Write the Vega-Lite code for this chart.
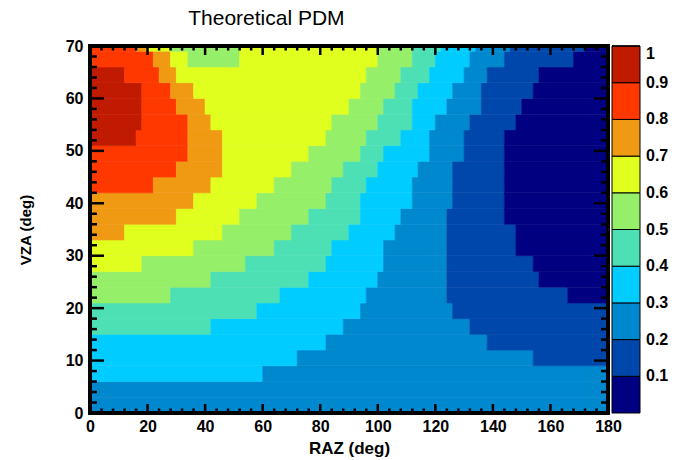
{
  "$schema": "https://vega.github.io/schema/vega-lite/v6.json",
  "width": 518,
  "height": 367,
  "autosize": {"type": "none"},
  "padding": {"left": 90, "top": 46, "right": 78, "bottom": 47},
  "background": "white",
  "title": {"text": "Theoretical PDM", "anchor": "start", "dx": 170, "offset": 9, "font": "Liberation Sans", "fontSize": 21, "fontWeight": "normal", "color": "black"},
  "config": {"view": {"stroke": null}, "font": "Liberation Sans"},
  "datasets": {
    "pdm": [
    {"x0":0,"x1":180,"y0":0,"y1":3,"v":0.25},
    {"x0":0,"x1":180,"y0":3,"y1":6,"v":0.25},
    {"x0":0,"x1":60,"y0":6,"y1":9,"v":0.35},{"x0":60,"x1":180,"y0":6,"y1":9,"v":0.25},
    {"x0":0,"x1":72,"y0":9,"y1":12,"v":0.35},{"x0":72,"x1":154,"y0":9,"y1":12,"v":0.25},{"x0":154,"x1":180,"y0":9,"y1":12,"v":0.15},
    {"x0":0,"x1":82,"y0":12,"y1":15,"v":0.35},{"x0":82,"x1":138,"y0":12,"y1":15,"v":0.25},{"x0":138,"x1":180,"y0":12,"y1":15,"v":0.15},
    {"x0":0,"x1":42,"y0":15,"y1":18,"v":0.45},{"x0":42,"x1":88,"y0":15,"y1":18,"v":0.35},{"x0":88,"x1":132,"y0":15,"y1":18,"v":0.25},{"x0":132,"x1":180,"y0":15,"y1":18,"v":0.15},
    {"x0":0,"x1":58,"y0":18,"y1":21,"v":0.45},{"x0":58,"x1":94,"y0":18,"y1":21,"v":0.35},{"x0":94,"x1":126,"y0":18,"y1":21,"v":0.25},{"x0":126,"x1":180,"y0":18,"y1":21,"v":0.15},
    {"x0":0,"x1":28,"y0":21,"y1":24,"v":0.55},{"x0":28,"x1":66,"y0":21,"y1":24,"v":0.45},{"x0":66,"x1":96,"y0":21,"y1":24,"v":0.35},{"x0":96,"x1":124,"y0":21,"y1":24,"v":0.25},{"x0":124,"x1":166,"y0":21,"y1":24,"v":0.15},{"x0":166,"x1":180,"y0":21,"y1":24,"v":0.05},
    {"x0":0,"x1":42,"y0":24,"y1":27,"v":0.55},{"x0":42,"x1":76,"y0":24,"y1":27,"v":0.45},{"x0":76,"x1":100,"y0":24,"y1":27,"v":0.35},{"x0":100,"x1":124,"y0":24,"y1":27,"v":0.25},{"x0":124,"x1":156,"y0":24,"y1":27,"v":0.15},{"x0":156,"x1":180,"y0":24,"y1":27,"v":0.05},
    {"x0":0,"x1":18,"y0":27,"y1":30,"v":0.65},{"x0":18,"x1":54,"y0":27,"y1":30,"v":0.55},{"x0":54,"x1":82,"y0":27,"y1":30,"v":0.45},{"x0":82,"x1":102,"y0":27,"y1":30,"v":0.35},{"x0":102,"x1":124,"y0":27,"y1":30,"v":0.25},{"x0":124,"x1":154,"y0":27,"y1":30,"v":0.15},{"x0":154,"x1":180,"y0":27,"y1":30,"v":0.05},
    {"x0":0,"x1":36,"y0":30,"y1":33,"v":0.65},{"x0":36,"x1":64,"y0":30,"y1":33,"v":0.55},{"x0":64,"x1":84,"y0":30,"y1":33,"v":0.45},{"x0":84,"x1":102,"y0":30,"y1":33,"v":0.35},{"x0":102,"x1":124,"y0":30,"y1":33,"v":0.25},{"x0":124,"x1":148,"y0":30,"y1":33,"v":0.15},{"x0":148,"x1":180,"y0":30,"y1":33,"v":0.05},
    {"x0":0,"x1":12,"y0":33,"y1":36,"v":0.75},{"x0":12,"x1":46,"y0":33,"y1":36,"v":0.65},{"x0":46,"x1":70,"y0":33,"y1":36,"v":0.55},{"x0":70,"x1":90,"y0":33,"y1":36,"v":0.45},{"x0":90,"x1":106,"y0":33,"y1":36,"v":0.35},{"x0":106,"x1":124,"y0":33,"y1":36,"v":0.25},{"x0":124,"x1":148,"y0":33,"y1":36,"v":0.15},{"x0":148,"x1":180,"y0":33,"y1":36,"v":0.05},
    {"x0":0,"x1":30,"y0":36,"y1":39,"v":0.75},{"x0":30,"x1":52,"y0":36,"y1":39,"v":0.65},{"x0":52,"x1":76,"y0":36,"y1":39,"v":0.55},{"x0":76,"x1":94,"y0":36,"y1":39,"v":0.45},{"x0":94,"x1":108,"y0":36,"y1":39,"v":0.35},{"x0":108,"x1":124,"y0":36,"y1":39,"v":0.25},{"x0":124,"x1":144,"y0":36,"y1":39,"v":0.15},{"x0":144,"x1":180,"y0":36,"y1":39,"v":0.05},
    {"x0":0,"x1":36,"y0":39,"y1":42,"v":0.75},{"x0":36,"x1":58,"y0":39,"y1":42,"v":0.65},{"x0":58,"x1":82,"y0":39,"y1":42,"v":0.55},{"x0":82,"x1":94,"y0":39,"y1":42,"v":0.45},{"x0":94,"x1":112,"y0":39,"y1":42,"v":0.35},{"x0":112,"x1":126,"y0":39,"y1":42,"v":0.25},{"x0":126,"x1":144,"y0":39,"y1":42,"v":0.15},{"x0":144,"x1":180,"y0":39,"y1":42,"v":0.05},
    {"x0":0,"x1":22,"y0":42,"y1":45,"v":0.85},{"x0":22,"x1":42,"y0":42,"y1":45,"v":0.75},{"x0":42,"x1":64,"y0":42,"y1":45,"v":0.65},{"x0":64,"x1":84,"y0":42,"y1":45,"v":0.55},{"x0":84,"x1":96,"y0":42,"y1":45,"v":0.45},{"x0":96,"x1":112,"y0":42,"y1":45,"v":0.35},{"x0":112,"x1":126,"y0":42,"y1":45,"v":0.25},{"x0":126,"x1":144,"y0":42,"y1":45,"v":0.15},{"x0":144,"x1":180,"y0":42,"y1":45,"v":0.05},
    {"x0":0,"x1":30,"y0":45,"y1":48,"v":0.85},{"x0":30,"x1":46,"y0":45,"y1":48,"v":0.75},{"x0":46,"x1":70,"y0":45,"y1":48,"v":0.65},{"x0":70,"x1":88,"y0":45,"y1":48,"v":0.55},{"x0":88,"x1":100,"y0":45,"y1":48,"v":0.45},{"x0":100,"x1":114,"y0":45,"y1":48,"v":0.35},{"x0":114,"x1":126,"y0":45,"y1":48,"v":0.25},{"x0":126,"x1":144,"y0":45,"y1":48,"v":0.15},{"x0":144,"x1":180,"y0":45,"y1":48,"v":0.05},
    {"x0":0,"x1":34,"y0":48,"y1":51,"v":0.85},{"x0":34,"x1":46,"y0":48,"y1":51,"v":0.75},{"x0":46,"x1":76,"y0":48,"y1":51,"v":0.65},{"x0":76,"x1":94,"y0":48,"y1":51,"v":0.55},{"x0":94,"x1":102,"y0":48,"y1":51,"v":0.45},{"x0":102,"x1":118,"y0":48,"y1":51,"v":0.35},{"x0":118,"x1":130,"y0":48,"y1":51,"v":0.25},{"x0":130,"x1":144,"y0":48,"y1":51,"v":0.15},{"x0":144,"x1":180,"y0":48,"y1":51,"v":0.05},
    {"x0":0,"x1":16,"y0":51,"y1":54,"v":0.95},{"x0":16,"x1":34,"y0":51,"y1":54,"v":0.85},{"x0":34,"x1":46,"y0":51,"y1":54,"v":0.75},{"x0":46,"x1":82,"y0":51,"y1":54,"v":0.65},{"x0":82,"x1":96,"y0":51,"y1":54,"v":0.55},{"x0":96,"x1":108,"y0":51,"y1":54,"v":0.45},{"x0":108,"x1":118,"y0":51,"y1":54,"v":0.35},{"x0":118,"x1":130,"y0":51,"y1":54,"v":0.25},{"x0":130,"x1":144,"y0":51,"y1":54,"v":0.15},{"x0":144,"x1":180,"y0":51,"y1":54,"v":0.05},
    {"x0":0,"x1":18,"y0":54,"y1":57,"v":0.95},{"x0":18,"x1":34,"y0":54,"y1":57,"v":0.85},{"x0":34,"x1":42,"y0":54,"y1":57,"v":0.75},{"x0":42,"x1":84,"y0":54,"y1":57,"v":0.65},{"x0":84,"x1":100,"y0":54,"y1":57,"v":0.55},{"x0":100,"x1":112,"y0":54,"y1":57,"v":0.45},{"x0":112,"x1":120,"y0":54,"y1":57,"v":0.35},{"x0":120,"x1":132,"y0":54,"y1":57,"v":0.25},{"x0":132,"x1":148,"y0":54,"y1":57,"v":0.15},{"x0":148,"x1":180,"y0":54,"y1":57,"v":0.05},
    {"x0":0,"x1":18,"y0":57,"y1":60,"v":0.95},{"x0":18,"x1":30,"y0":57,"y1":60,"v":0.85},{"x0":30,"x1":40,"y0":57,"y1":60,"v":0.75},{"x0":40,"x1":90,"y0":57,"y1":60,"v":0.65},{"x0":90,"x1":102,"y0":57,"y1":60,"v":0.55},{"x0":102,"x1":112,"y0":57,"y1":60,"v":0.45},{"x0":112,"x1":124,"y0":57,"y1":60,"v":0.35},{"x0":124,"x1":136,"y0":57,"y1":60,"v":0.25},{"x0":136,"x1":150,"y0":57,"y1":60,"v":0.15},{"x0":150,"x1":180,"y0":57,"y1":60,"v":0.05},
    {"x0":0,"x1":18,"y0":60,"y1":63,"v":0.95},{"x0":18,"x1":28,"y0":60,"y1":63,"v":0.85},{"x0":28,"x1":36,"y0":60,"y1":63,"v":0.75},{"x0":36,"x1":94,"y0":60,"y1":63,"v":0.65},{"x0":94,"x1":106,"y0":60,"y1":63,"v":0.55},{"x0":106,"x1":114,"y0":60,"y1":63,"v":0.45},{"x0":114,"x1":126,"y0":60,"y1":63,"v":0.35},{"x0":126,"x1":136,"y0":60,"y1":63,"v":0.25},{"x0":136,"x1":154,"y0":60,"y1":63,"v":0.15},{"x0":154,"x1":180,"y0":60,"y1":63,"v":0.05},
    {"x0":0,"x1":12,"y0":63,"y1":66,"v":0.95},{"x0":12,"x1":24,"y0":63,"y1":66,"v":0.85},{"x0":24,"x1":30,"y0":63,"y1":66,"v":0.75},{"x0":30,"x1":96,"y0":63,"y1":66,"v":0.65},{"x0":96,"x1":108,"y0":63,"y1":66,"v":0.55},{"x0":108,"x1":118,"y0":63,"y1":66,"v":0.45},{"x0":118,"x1":130,"y0":63,"y1":66,"v":0.35},{"x0":130,"x1":138,"y0":63,"y1":66,"v":0.25},{"x0":138,"x1":156,"y0":63,"y1":66,"v":0.15},{"x0":156,"x1":180,"y0":63,"y1":66,"v":0.05},
    {"x0":0,"x1":22,"y0":66,"y1":69,"v":0.85},{"x0":22,"x1":28,"y0":66,"y1":69,"v":0.75},{"x0":28,"x1":34,"y0":66,"y1":69,"v":0.65},{"x0":34,"x1":52,"y0":66,"y1":69,"v":0.55},{"x0":52,"x1":100,"y0":66,"y1":69,"v":0.65},{"x0":100,"x1":112,"y0":66,"y1":69,"v":0.55},{"x0":112,"x1":120,"y0":66,"y1":69,"v":0.45},{"x0":120,"x1":132,"y0":66,"y1":69,"v":0.35},{"x0":132,"x1":144,"y0":66,"y1":69,"v":0.25},{"x0":144,"x1":168,"y0":66,"y1":69,"v":0.15},{"x0":168,"x1":180,"y0":66,"y1":69,"v":0.05},
    {"x0":0,"x1":16,"y0":69,"y1":70,"v":0.85},{"x0":16,"x1":20,"y0":69,"y1":70,"v":0.75},{"x0":20,"x1":28,"y0":69,"y1":70,"v":0.65},{"x0":28,"x1":52,"y0":69,"y1":70,"v":0.55},{"x0":52,"x1":100,"y0":69,"y1":70,"v":0.65},{"x0":100,"x1":112,"y0":69,"y1":70,"v":0.55},{"x0":112,"x1":122,"y0":69,"y1":70,"v":0.45},{"x0":122,"x1":134,"y0":69,"y1":70,"v":0.35},{"x0":134,"x1":146,"y0":69,"y1":70,"v":0.25},{"x0":146,"x1":172,"y0":69,"y1":70,"v":0.15},{"x0":172,"x1":180,"y0":69,"y1":70,"v":0.05}
    ],
    "xmaj": [{"t":0},{"t":20},{"t":40},{"t":60},{"t":80},{"t":100},{"t":120},{"t":140},{"t":160},{"t":180}],
    "xmin": [{"t":4},{"t":8},{"t":12},{"t":16},{"t":24},{"t":28},{"t":32},{"t":36},{"t":44},{"t":48},{"t":52},{"t":56},{"t":64},{"t":68},{"t":72},{"t":76},{"t":84},{"t":88},{"t":92},{"t":96},{"t":104},{"t":108},{"t":112},{"t":116},{"t":124},{"t":128},{"t":132},{"t":136},{"t":144},{"t":148},{"t":152},{"t":156},{"t":164},{"t":168},{"t":172},{"t":176}],
    "ymaj": [{"t":0},{"t":10},{"t":20},{"t":30},{"t":40},{"t":50},{"t":60},{"t":70}],
    "ymin": [{"t":2},{"t":4},{"t":6},{"t":8},{"t":12},{"t":14},{"t":16},{"t":18},{"t":22},{"t":24},{"t":26},{"t":28},{"t":32},{"t":34},{"t":36},{"t":38},{"t":42},{"t":44},{"t":46},{"t":48},{"t":52},{"t":54},{"t":56},{"t":58},{"t":62},{"t":64},{"t":66},{"t":68}]
  },
  "resolve": {"axis": {"x": "independent", "y": "independent"}},
  "layer": [
    {
      "data": {"name": "pdm"},
      "mark": {"type": "rect", "strokeWidth": 0.6},
      "encoding": {
        "x": {"field": "x0", "type": "quantitative", "scale": {"domain": [0, 180], "nice": false, "zero": false},
          "axis": {"orient": "bottom", "values": [0,20,40,60,80,100,120,140,160,180], "ticks": false, "grid": false, "domain": false, "labelFont": "Liberation Sans", "labelFontSize": 16, "labelFontWeight": "bold", "labelColor": "black", "labelPadding": 5, "labelFlush": false, "title": "RAZ (deg)", "titleFont": "Liberation Sans", "titleFontSize": 17, "titleFontWeight": "bold", "titleColor": "black", "titlePadding": 6}},
        "x2": {"field": "x1"},
        "y": {"field": "y0", "type": "quantitative", "scale": {"domain": [0, 70], "nice": false, "zero": false},
          "axis": {"orient": "left", "values": [0,10,20,30,40,50,60,70], "ticks": false, "grid": false, "domain": false, "labelFont": "Liberation Sans", "labelFontSize": 16, "labelFontWeight": "bold", "labelColor": "black", "labelPadding": 7, "labelFlush": false, "title": "VZA (deg)", "titleFont": "Liberation Sans", "titleFontSize": 15, "titleFontWeight": "bold", "titleColor": "black", "titlePadding": 32}},
        "y2": {"field": "y1"},
        "color": {"field": "v", "type": "quantitative",
          "scale": {"type": "quantize", "domain": [0, 1], "range": ["#000080", "#0047ab", "#0088cf", "#00ccff", "#4ee0b5", "#96ef68", "#e0ff1e", "#f09a14", "#ff3800", "#c01a00"]},
          "legend": {"type": "gradient", "orient": "none", "legendX": 522, "legendY": 0, "direction": "vertical", "title": null, "gradientLength": 367, "gradientThickness": 28, "gradientStrokeColor": "black", "gradientStrokeWidth": 1, "values": [0,0.1,0.2,0.3,0.4,0.5,0.6,0.7,0.8,0.9,1], "labelExpr": "datum.value < 0.05 ? '' : format(datum.value, '.1~f')", "labelOverlap": false, "labelFont": "Liberation Sans", "labelFontSize": 16, "labelFontWeight": "bold", "labelColor": "black", "labelOffset": 6}},
        "stroke": {"field": "v", "type": "quantitative", "legend": null,
          "scale": {"type": "quantize", "domain": [0, 1], "range": ["#000080", "#0047ab", "#0088cf", "#00ccff", "#4ee0b5", "#96ef68", "#e0ff1e", "#f09a14", "#ff3800", "#c01a00"]}}
      }
    },
    {
      "data": {"name": "xmaj"},
      "mark": {"type": "rule", "color": "black", "strokeWidth": 2.5},
      "encoding": {"x": {"field": "t", "type": "quantitative", "axis": null}, "y": {"datum": 0, "axis": null}, "y2": {"datum": 1.72}}
    },
    {
      "data": {"name": "xmaj"},
      "mark": {"type": "rule", "color": "black", "strokeWidth": 2.5},
      "encoding": {"x": {"field": "t", "type": "quantitative", "axis": null}, "y": {"datum": 70, "axis": null}, "y2": {"datum": 68.28}}
    },
    {
      "data": {"name": "xmin"},
      "mark": {"type": "rule", "color": "black", "strokeWidth": 2.5},
      "encoding": {"x": {"field": "t", "type": "quantitative", "axis": null}, "y": {"datum": 0, "axis": null}, "y2": {"datum": 0.86}}
    },
    {
      "data": {"name": "xmin"},
      "mark": {"type": "rule", "color": "black", "strokeWidth": 2.5},
      "encoding": {"x": {"field": "t", "type": "quantitative", "axis": null}, "y": {"datum": 70, "axis": null}, "y2": {"datum": 69.14}}
    },
    {
      "data": {"name": "ymaj"},
      "mark": {"type": "rule", "color": "black", "strokeWidth": 2.5},
      "encoding": {"y": {"field": "t", "type": "quantitative", "axis": null}, "x": {"datum": 0, "axis": null}, "x2": {"datum": 4.86}}
    },
    {
      "data": {"name": "ymaj"},
      "mark": {"type": "rule", "color": "black", "strokeWidth": 2.5},
      "encoding": {"y": {"field": "t", "type": "quantitative", "axis": null}, "x": {"datum": 180, "axis": null}, "x2": {"datum": 175.14}}
    },
    {
      "data": {"name": "ymin"},
      "mark": {"type": "rule", "color": "black", "strokeWidth": 2.5},
      "encoding": {"y": {"field": "t", "type": "quantitative", "axis": null}, "x": {"datum": 0, "axis": null}, "x2": {"datum": 2.43}}
    },
    {
      "data": {"name": "ymin"},
      "mark": {"type": "rule", "color": "black", "strokeWidth": 2.5},
      "encoding": {"y": {"field": "t", "type": "quantitative", "axis": null}, "x": {"datum": 180, "axis": null}, "x2": {"datum": 177.57}}
    },
    {
      "data": {"name": "xmaj"},
      "mark": {"type": "rect", "fill": null, "fillOpacity": 0, "stroke": "black", "strokeWidth": 3},
      "encoding": {"x": {"datum": 0, "axis": null}, "x2": {"datum": 180}, "y": {"datum": 0, "axis": null}, "y2": {"datum": 70}}
    }
  ]
}
